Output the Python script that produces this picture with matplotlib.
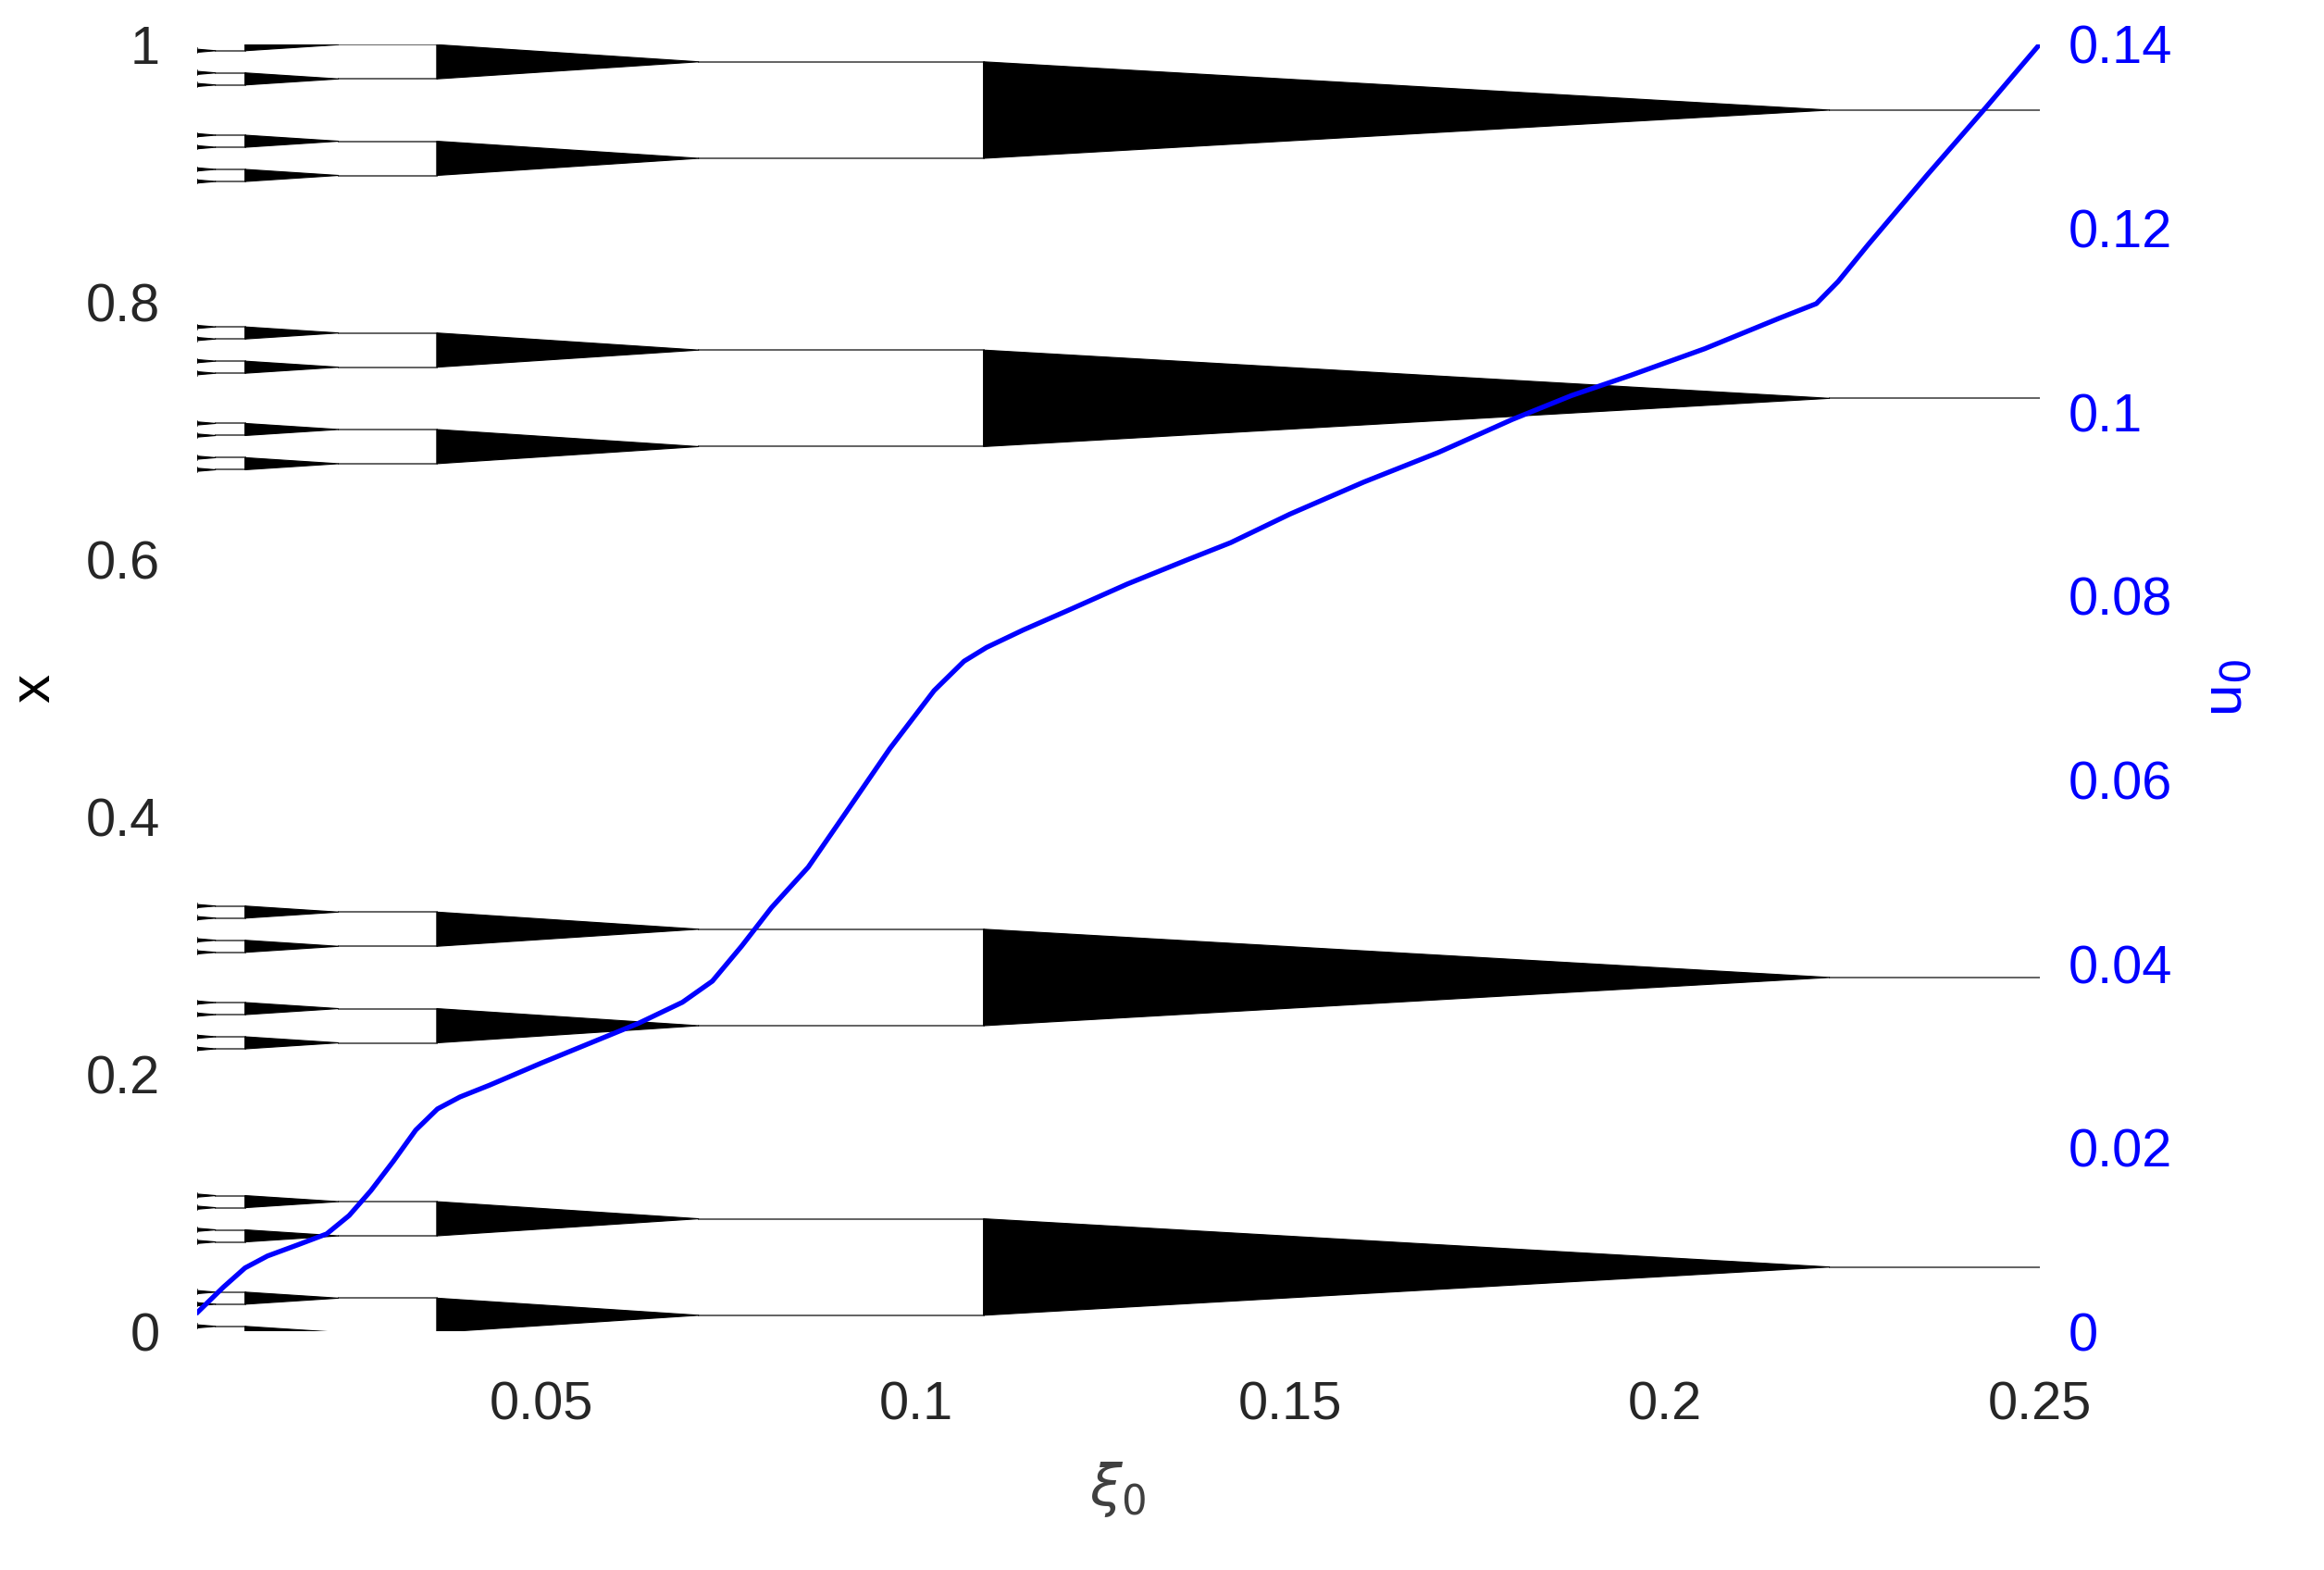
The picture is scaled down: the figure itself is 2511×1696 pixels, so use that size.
import matplotlib
matplotlib.use("Agg")
import matplotlib.pyplot as plt
from matplotlib.patches import Polygon

# Cantor-like structure: base points and levels (start xi, apex xi, half-width)
base_points = [0.050, 0.275, 0.725, 0.949]
level_start = [0.109, 0.036, 0.0104, 0.0030]
level_apex = [0.222, 0.071, 0.0229, 0.0065]
level_half = [0.0375, 0.0133, 0.0047, 0.0017]
xi_max = 0.25
xi_min = 0.004

# blue curve u0(xi0)
xi_u = [0.0041, 0.0075, 0.0104, 0.0134, 0.0174, 0.0213, 0.0243, 0.0272, 0.0302, 0.0332,
        0.0361, 0.0391, 0.0431, 0.05, 0.0569, 0.0629, 0.0688, 0.0728, 0.0767, 0.0807,
        0.0856, 0.0906, 0.0965, 0.1024, 0.1064, 0.1094, 0.1143, 0.1202, 0.1282, 0.1361,
        0.1420, 0.1499, 0.1598, 0.1697, 0.1796, 0.1875, 0.1954, 0.2053, 0.2152, 0.2202,
        0.2231, 0.2271, 0.2350, 0.2429, 0.25]
u0 = [0.0021, 0.0048, 0.0069, 0.0082, 0.0094, 0.0106, 0.0126, 0.0153, 0.0185, 0.0219,
      0.0242, 0.0255, 0.0268, 0.0292, 0.0315, 0.0335, 0.0358, 0.0381, 0.0419, 0.0461,
      0.0505, 0.0564, 0.0634, 0.0697, 0.0729, 0.0744, 0.0763, 0.0784, 0.0813, 0.0839,
      0.0858, 0.0889, 0.0924, 0.0956, 0.0992, 0.1018, 0.1040, 0.1069, 0.1102, 0.1118,
      0.1142, 0.1182, 0.1258, 0.1332, 0.14]

plt.rcParams['font.family'] = ['Liberation Sans', 'DejaVu Sans']
fig = plt.figure(figsize=(2511/160, 1696/160), dpi=160)
ax = fig.add_axes([0.0848, 0.152, 0.7928, 0.8197])
fs = 26

pts = list(base_points)
prev_start = xi_max
for xs, xa, h in zip(level_start, level_apex, level_half):
    new = []
    for p in pts:
        ax.plot([xa, prev_start], [p, p], color='0.4', lw=0.9, zorder=1)
        ax.add_patch(Polygon([(xa, p), (xs, p + h), (xs, p - h)], closed=True,
                             facecolor='black', edgecolor='black', lw=0.5, zorder=2))
        new += [p + h, p - h]
    pts = new
    prev_start = xs
for p in pts:
    ax.plot([xi_min, prev_start], [p, p], color='0.4', lw=0.9, zorder=1)

ax.set_xlim(xi_min, xi_max)
ax.set_ylim(0, 1)
ax.set_xticks([0.05, 0.1, 0.15, 0.2, 0.25])
ax.set_xticklabels(['0.05', '0.1', '0.15', '0.2', '0.25'])
ax.set_yticks([0, 0.2, 0.4, 0.6, 0.8, 1])
ax.set_yticklabels(['0', '0.2', '0.4', '0.6', '0.8', '1'])
ax.tick_params(length=0, labelsize=fs, colors='#262626')
ax.tick_params(axis='x', pad=24)
ax.tick_params(axis='y', pad=18)
for s in ax.spines.values():
    s.set_visible(False)
ax.set_xlabel(r'$\xi_0$', fontsize=fs + 2, color='0.25', labelpad=14)
ax.set_ylabel('x', fontsize=fs + 2, labelpad=12)

ax2 = ax.twinx()
ax2.plot(xi_u, u0, color='#0000ff', lw=2.4)
ax2.set_ylim(0, 0.14)
ax2.set_yticks([0, 0.02, 0.04, 0.06, 0.08, 0.1, 0.12, 0.14])
ax2.set_yticklabels(['0', '0.02', '0.04', '0.06', '0.08', '0.1', '0.12', '0.14'])
ax2.tick_params(length=0, labelsize=fs, colors='#0000ff', pad=14)
for s in ax2.spines.values():
    s.set_visible(False)
ax2.set_ylabel(r'u$_0$', fontsize=fs + 2, color='#0000ff', rotation=90, labelpad=14)

fig.savefig('out.png', dpi=160)
